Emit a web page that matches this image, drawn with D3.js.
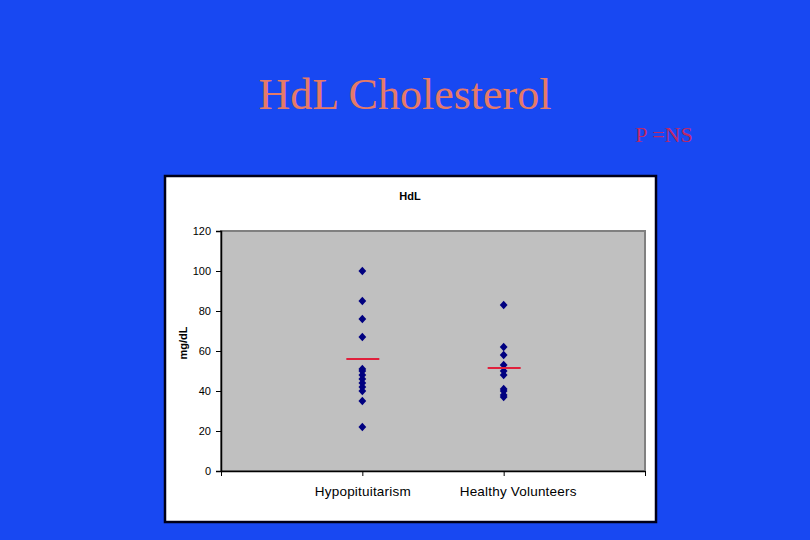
<!DOCTYPE html>
<html>
<head>
<meta charset="utf-8">
<script src="https://cdn.jsdelivr.net/npm/d3@7"></script>
<style>
  body { margin: 0; background: #1848f2; }
  svg { display: block; }
</style>
</head>
<body>
<div id="vis"></div>
<script>
// Data
const groups = ['Hypopituitarism', 'Healthy Volunteers'];
const hypoValues = [100, 85, 76, 67, 51, 50, 48, 46, 44, 42, 40, 35, 22];
const healthyValues = [83, 62, 58, 53, 50, 48, 41, 40, 38, 37];
const meanValues = [56, 51.5];
const yTicks = [0, 20, 40, 60, 80, 100, 120];

// Layout
const W = 810, H = 540;
const frame = { x: 165, y: 176, w: 491, h: 346 };
const plot = { left: 221, top: 231, right: 645, bottom: 471 };

const svg = d3.select('#vis')
    .append('svg')
    .attr('width', W)
    .attr('height', H);

svg.append('rect')
    .attr('width', W).attr('height', H)
    .attr('fill', '#1848f2');

// slide title
svg.append('text')
    .attr('x', 405).attr('y', 109)
    .attr('text-anchor', 'middle')
    .style('font-family', '"Liberation Serif", "Times New Roman", serif')
    .style('font-size', '44px')
    .attr('fill', '#e57a68')
    .text('HdL Cholesterol');

svg.append('text')
    .attr('x', 664).attr('y', 142)
    .attr('text-anchor', 'middle')
    .style('font-family', '"Liberation Serif", "Times New Roman", serif')
    .style('font-size', '22px')
    .attr('fill', '#bc2868')
    .text('P =NS');

// chart frame
svg.append('rect')
    .attr('x', frame.x).attr('y', frame.y)
    .attr('width', frame.w).attr('height', frame.h)
    .attr('fill', '#ffffff')
    .attr('stroke', '#000018')
    .attr('stroke-width', 2.5);

svg.append('text')
    .attr('x', 410).attr('y', 200)
    .attr('text-anchor', 'middle')
    .style('font-family', 'Arial, "Liberation Sans", sans-serif')
    .style('font-size', '11px')
    .style('font-weight', 'bold')
    .attr('fill', '#000')
    .text('HdL');

// scales
const xScale = d3.scaleLinear()
    .domain([0, 3])
    .range([plot.left, plot.right]);

const yScale = d3.scaleLinear()
    .domain([0, 120])
    .range([plot.bottom, plot.top]);

// plot area
svg.append('rect')
    .attr('x', plot.left).attr('y', plot.top)
    .attr('width', plot.right - plot.left)
    .attr('height', plot.bottom - plot.top)
    .attr('fill', '#c0c0c0')
    .attr('stroke', '#808080')
    .attr('stroke-width', 2);

// y axis
const yAxis = d3.axisLeft(yScale)
    .tickValues(yTicks)
    .tickSize(5)
    .tickPadding(5);

const gy = svg.append('g')
    .attr('class', 'axis')
    .attr('transform', `translate(${plot.left},0)`)
    .call(yAxis);
gy.select('.domain').attr('stroke', '#000').attr('stroke-width', 1.5);
gy.selectAll('.tick line').attr('stroke', '#000');
gy.selectAll('.tick text')
    .style('font-family', 'Arial, "Liberation Sans", sans-serif')
    .style('font-size', '11px')
    .attr('fill', '#000');

// x axis
const xAxis = d3.axisBottom(xScale)
    .tickValues([0, 1, 2, 3])
    .tickSize(5)
    .tickSizeOuter(0)
    .tickFormat(d => (d >= 1 && d <= 2) ? groups[d - 1] : '')
    .tickPadding(10);

const gx = svg.append('g')
    .attr('class', 'axis')
    .attr('transform', `translate(0,${plot.bottom})`)
    .call(xAxis);
gx.select('.domain').attr('stroke', '#000').attr('stroke-width', 1.5);
gx.selectAll('.tick line').attr('stroke', '#000');
gx.selectAll('.tick text')
    .style('font-family', 'Arial, "Liberation Sans", sans-serif')
    .style('font-size', '13.5px')
    .style('letter-spacing', '0.2px')
    .attr('fill', '#000')
    .attr('dx', d => d === 2 ? 14 : 0);

// y axis title
svg.append('text')
    .attr('transform', 'rotate(-90)')
    .attr('x', -343).attr('y', 187)
    .attr('text-anchor', 'middle')
    .style('font-family', 'Arial, "Liberation Sans", sans-serif')
    .style('font-size', '11px')
    .style('font-weight', 'bold')
    .attr('fill', '#000')
    .text('mg/dL');

// points
const points = [];
hypoValues.forEach(v => points.push({ g: 1, v: v }));
healthyValues.forEach(v => points.push({ g: 2, v: v }));

// squat diamond, about 8px across
const diamond = 'M0,-4.2L3.9,0L0,4.2L-3.9,0Z';

svg.selectAll('.points')
    .data(points)
    .join('path')
    .attr('class', 'points')
    .attr('d', diamond)
    .attr('transform', d => `translate(${xScale(d.g)},${yScale(d.v)})`)
    .attr('fill', '#000080');

// mean lines
svg.selectAll('.mean')
    .data(meanValues)
    .join('line')
    .attr('class', 'mean')
    .attr('x1', (d, i) => xScale(i + 1) - 16)
    .attr('x2', (d, i) => xScale(i + 1) + 17)
    .attr('y1', d => yScale(d))
    .attr('y2', d => yScale(d))
    .attr('stroke', '#e0203c')
    .attr('stroke-width', 2.2);
</script>
</body>
</html>
